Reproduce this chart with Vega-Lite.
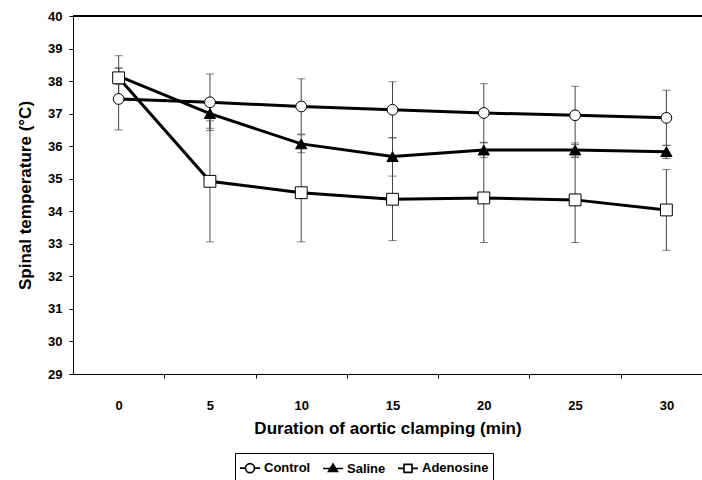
{
  "$schema": "https://vega.github.io/schema/vega-lite/v6.json",
  "autosize": {"type": "none"},
  "padding": {"left": 73, "top": 16, "right": 0, "bottom": 106},
  "width": 629,
  "height": 358,
  "background": "white",
  "config": {
    "view": {"stroke": null},
    "font": "Liberation Sans",
    "axis": {
      "labelFont": "Liberation Sans",
      "labelFontWeight": "bold",
      "labelFontSize": 13,
      "labelColor": "black",
      "titleFont": "Liberation Sans",
      "titleFontWeight": "bold",
      "titleFontSize": 17,
      "titleColor": "black",
      "domainColor": "black",
      "tickColor": "black",
      "grid": false
    },
    "legend": {
      "labelFont": "Liberation Sans",
      "labelFontWeight": "bold",
      "labelFontSize": 13,
      "labelColor": "black"
    }
  },
  "data": {
    "values": [
      {"t": 0, "g": "Control", "m": 37.45, "lo": 36.5, "hi": 38.4},
      {"t": 5, "g": "Control", "m": 37.35, "lo": 36.48, "hi": 38.22},
      {"t": 10, "g": "Control", "m": 37.22, "lo": 36.37, "hi": 38.07},
      {"t": 15, "g": "Control", "m": 37.12, "lo": 36.26, "hi": 37.98},
      {"t": 20, "g": "Control", "m": 37.02, "lo": 36.1, "hi": 37.92},
      {"t": 25, "g": "Control", "m": 36.95, "lo": 36.05, "hi": 37.84},
      {"t": 30, "g": "Control", "m": 36.87, "lo": 36.02, "hi": 37.72},
      {"t": 0, "g": "Saline", "m": 38.15, "lo": 37.9, "hi": 38.4},
      {"t": 5, "g": "Saline", "m": 37.0, "lo": 36.55, "hi": 37.45},
      {"t": 10, "g": "Saline", "m": 36.07, "lo": 35.8, "hi": 36.35},
      {"t": 15, "g": "Saline", "m": 35.68, "lo": 35.08, "hi": 36.26},
      {"t": 20, "g": "Saline", "m": 35.88, "lo": 35.65, "hi": 36.12},
      {"t": 25, "g": "Saline", "m": 35.88, "lo": 35.66, "hi": 36.1},
      {"t": 30, "g": "Saline", "m": 35.83, "lo": 35.62, "hi": 36.03},
      {"t": 0, "g": "Adenosine", "m": 38.1, "lo": 37.45, "hi": 38.78},
      {"t": 5, "g": "Adenosine", "m": 34.92, "lo": 33.06, "hi": 36.78},
      {"t": 10, "g": "Adenosine", "m": 34.57, "lo": 33.06, "hi": 36.08},
      {"t": 15, "g": "Adenosine", "m": 34.37, "lo": 33.1, "hi": 35.64},
      {"t": 20, "g": "Adenosine", "m": 34.41, "lo": 33.04, "hi": 35.78},
      {"t": 25, "g": "Adenosine", "m": 34.35, "lo": 33.04, "hi": 35.66},
      {"t": 30, "g": "Adenosine", "m": 34.04, "lo": 32.8, "hi": 35.28}
    ]
  },
  "encoding": {
    "y": {
      "type": "quantitative",
      "scale": {"domain": [29, 40], "nice": false, "zero": false},
      "axis": {
        "title": "Spinal temperature (°C)",
        "values": [29, 30, 31, 32, 33, 34, 35, 36, 37, 38, 39, 40],
        "tickSize": 4,
        "labelPadding": 7,
        "titlePadding": 13
      }
    }
  },
  "layer": [
    {
      "mark": {"type": "rule", "color": "black", "strokeWidth": 1},
      "encoding": {"y": {"datum": 40, "type": "quantitative"}}
    },
    {
      "mark": {"type": "rule", "color": "#444444", "strokeWidth": 1},
      "encoding": {
        "x": {
          "field": "t",
          "type": "quantitative",
          "scale": {"domain": [-2.5, 31.95], "nice": false, "zero": false},
          "axis": {
            "title": "Duration of aortic clamping (min)",
            "values": [0, 5, 10, 15, 20, 25, 30],
            "tickOffset": 45.6,
            "labelOffset": -45.6,
            "tickSize": 4,
            "labelPadding": 21,
            "titlePadding": 8,
            "labelFlush": false
          }
        },
        "y": {"field": "lo"},
        "y2": {"field": "hi"}
      }
    },
    {
      "mark": {"type": "tick", "orient": "horizontal", "color": "#444444", "size": 8, "thickness": 1},
      "encoding": {"x": {"field": "t", "type": "quantitative"}, "y": {"field": "lo"}}
    },
    {
      "mark": {"type": "tick", "orient": "horizontal", "color": "#444444", "size": 8, "thickness": 1},
      "encoding": {"x": {"field": "t", "type": "quantitative"}, "y": {"field": "hi"}}
    },
    {
      "mark": {"type": "line", "color": "black", "strokeWidth": 3},
      "encoding": {"x": {"field": "t", "type": "quantitative"}, "y": {"field": "m"}, "detail": {"field": "g"}}
    },
    {
      "mark": {"type": "point", "filled": true, "opacity": 1, "stroke": "black", "strokeWidth": 1},
      "encoding": {
        "x": {"field": "t", "type": "quantitative"},
        "y": {"field": "m"},
        "shape": {
          "field": "g",
          "scale": {"domain": ["Control", "Saline", "Adenosine"], "range": ["circle", "triangle-up", "square"]},
          "legend": null
        },
        "fill": {
          "field": "g",
          "scale": {"domain": ["Control", "Saline", "Adenosine"], "range": ["white", "black", "white"]},
          "legend": null
        },
        "size": {
          "field": "g",
          "scale": {"domain": ["Control", "Saline", "Adenosine"], "range": [115, 140, 110]},
          "legend": null
        }
      }
    },
    {
      "mark": {"type": "point", "filled": false, "opacity": 0, "color": "black"},
      "encoding": {
        "x": {"field": "t", "type": "quantitative"},
        "y": {"field": "m"},
        "shape": {
          "field": "g",
          "title": null,
          "scale": {
            "domain": ["Control", "Saline", "Adenosine"],
            "range": [
              "M-1,0H-0.45M0.45,0H1M0.45,0A0.45,0.45 0 1,1 -0.45,0A0.45,0.45 0 1,1 0.45,0Z",
              "M-1,0H1M0,-0.45L0.45,0.3L-0.45,0.3ZM0,-0.27L0.3,0.2L-0.3,0.2ZM0,-0.1L0.15,0.13L-0.15,0.13ZM0,-0.45V0.3",
              "M-1,0H-0.4M0.4,0H1M-0.4,-0.4H0.4V0.4H-0.4Z"
            ]
          },
          "legend": {
            "orient": "none",
            "legendX": 162,
            "legendY": 437,
            "direction": "horizontal",
            "columns": 3,
            "strokeColor": "black",
            "padding": 4,
            "symbolSize": 400,
            "symbolOpacity": 1,
            "symbolStrokeColor": "black",
            "symbolStrokeWidth": 1.6,
            "labelOffset": 3,
            "columnPadding": 8
          }
        }
      }
    }
  ],
  "resolve": {"scale": {"shape": "independent", "size": "independent", "fill": "independent"}}
}
